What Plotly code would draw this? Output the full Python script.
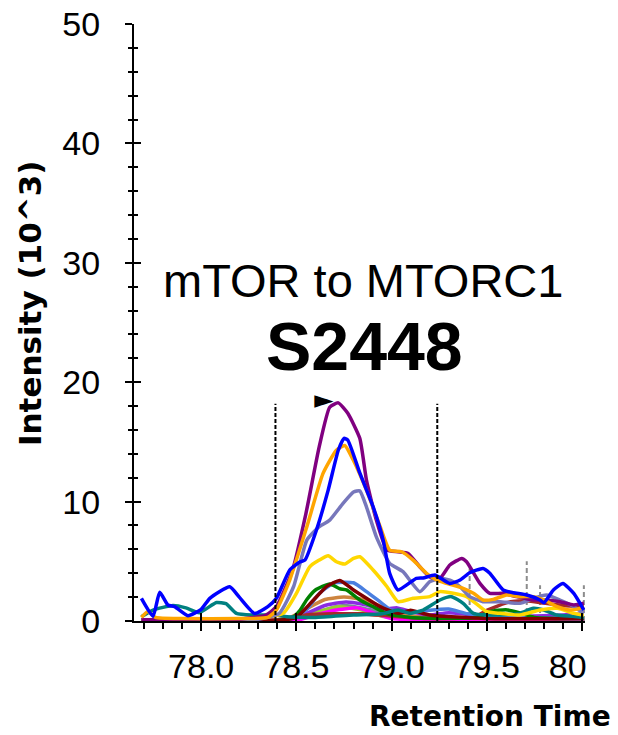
import plotly.graph_objects as go

# ---------------- data ----------------
blue_x = [77.686, 77.747, 77.782, 77.825, 77.86, 77.93, 78.0, 78.045, 78.15, 78.2, 78.28, 78.35, 78.395, 78.465, 78.52, 78.545, 78.605, 78.667, 78.72, 78.75, 78.77, 78.833, 78.903, 78.956, 78.99, 79.034, 79.13, 79.166, 79.227, 79.306, 79.36, 79.41, 79.48, 79.516, 79.586, 79.64, 79.71, 79.78, 79.8, 79.85, 79.90, 79.957, 80.01]
blue_y = [1.9, 0.4, 2.4, 1.34, 1.2, 0.45, 0.98, 1.9, 2.87, 2.0, 0.64, 1.2, 1.9, 4.27, 4.96, 5.1, 7.6, 10.96, 14.3, 15.3, 15.15, 12.4, 9.56, 6.78, 3.99, 2.6, 3.57, 3.6, 3.85, 3.15, 3.43, 4.04, 4.4, 4.0, 2.6, 2.37, 2.18, 1.76, 1.53, 2.6, 3.15, 2.32, 0.92]

purple_x = [77.686, 77.9, 78.2, 78.34, 78.395, 78.48, 78.55, 78.62, 78.675, 78.72, 78.77, 78.833, 78.868, 78.92, 78.976, 79.034, 79.087, 79.148, 79.2, 79.254, 79.306, 79.368, 79.394, 79.464, 79.516, 79.586, 79.656, 79.744, 79.814, 79.884, 79.957, 80.01]
purple_y = [0.1, 0.1, 0.15, 0.5, 1.2, 4.27, 9.0, 14.6, 17.9, 18.27, 17.4, 15.3, 11.8, 8.45, 5.94, 5.8, 5.66, 4.54, 3.7, 3.57, 4.69, 5.24, 4.96, 3.15, 2.32, 2.32, 2.04, 1.76, 1.76, 1.62, 1.34, 1.48]

orange_x = [77.686, 77.72, 77.76, 77.9, 78.2, 78.35, 78.395, 78.465, 78.555, 78.64, 78.71, 78.754, 78.798, 78.868, 78.94, 78.99, 79.052, 79.113, 79.183, 79.236, 79.289, 79.376, 79.43, 79.48, 79.534, 79.604, 79.674, 79.744, 79.8, 79.87, 79.937, 79.99, 80.01]
orange_y = [0.3, 0.8, 0.3, 0.2, 0.2, 0.3, 0.92, 3.43, 7.9, 12.36, 14.3, 14.7, 13.5, 10.96, 7.9, 5.94, 5.8, 5.1, 4.0, 3.43, 3.15, 2.74, 2.32, 1.76, 1.81, 2.18, 2.04, 2.04, 1.76, 1.2, 0.92, 1.06, 1.2]

slate_x = [77.686, 78.0, 78.3, 78.41, 78.485, 78.555, 78.62, 78.675, 78.745, 78.8, 78.833, 78.868, 78.92, 78.99, 79.06, 79.148, 79.2, 79.254, 79.306, 79.36, 79.41, 79.48, 79.57, 79.674, 79.744, 79.814, 79.884, 79.957, 80.01]
slate_y = [0.1, 0.1, 0.15, 0.64, 2.87, 6.78, 7.9, 8.45, 9.85, 10.8, 10.9, 9.56, 7.05, 4.83, 4.13, 2.46, 3.29, 3.57, 3.43, 2.87, 2.04, 1.62, 1.62, 1.48, 1.9, 2.18, 1.76, 1.2, 0.64]

gold_x = [77.686, 78.2, 78.43, 78.5, 78.57, 78.62, 78.667, 78.71, 78.754, 78.8, 78.833, 78.903, 78.976, 79.034, 79.113, 79.2, 79.254, 79.324, 79.394, 79.464, 79.5, 79.57, 79.674, 79.78, 79.87, 79.957, 80.01]
gold_y = [0.1, 0.1, 0.64, 2.32, 4.54, 5.1, 5.47, 4.96, 4.77, 5.24, 5.38, 4.27, 2.87, 1.62, 1.9, 2.04, 2.46, 2.32, 2.04, 1.2, 0.78, 0.64, 0.5, 0.92, 1.06, 0.64, 0.5]

teal_x = [77.686, 77.747, 77.852, 77.92, 77.99, 78.08, 78.13, 78.185, 78.27, 78.395, 78.45, 78.6, 78.8, 78.95, 79.034, 79.096, 79.166, 79.254, 79.315, 79.376, 79.43, 79.55, 79.674, 79.744, 79.8, 79.87, 79.95, 80.01]
teal_y = [0.36, 0.92, 1.3, 1.1, 0.7, 1.55, 1.45, 0.64, 0.5, 0.5, 0.36, 0.3, 0.5, 0.6, 0.92, 0.64, 0.92, 1.76, 2.04, 1.48, 0.64, 0.5, 0.64, 1.06, 0.92, 0.5, 0.4, 0.3]

maroon_x = [77.686, 78.4, 78.5, 78.59, 78.66, 78.728, 78.8, 78.868, 78.94, 79.034, 79.1, 79.2, 79.5, 80.01]
maroon_y = [0.05, 0.05, 0.3, 1.76, 2.9, 3.4, 2.6, 1.9, 1.2, 0.64, 0.9, 0.5, 0.2, 0.2]

green_x = [77.686, 78.4, 78.48, 78.52, 78.555, 78.6, 78.675, 78.728, 78.763, 78.833, 78.903, 78.98, 79.1, 79.45, 79.52, 79.6, 79.67, 79.75, 80.01]
green_y = [0.05, 0.05, 0.3, 0.92, 1.8, 2.6, 3.1, 2.7, 2.6, 1.76, 1.2, 0.6, 0.3, 0.3, 0.8, 0.95, 0.7, 0.3, 0.2]

cblue_x = [77.686, 78.45, 78.55, 78.62, 78.7, 78.8, 78.868, 78.94, 79.0, 79.1, 79.2, 79.3, 79.4, 79.6, 80.01]
cblue_y = [0.05, 0.1, 0.9, 2.3, 3.2, 3.2, 2.46, 1.6, 0.9, 0.7, 0.9, 1.0, 0.6, 0.3, 0.2]

brown_x = [77.686, 78.4, 78.55, 78.7, 78.85, 79.0, 79.2, 79.43, 79.5, 79.62, 79.71, 79.8, 79.9, 80.01]
brown_y = [0.05, 0.1, 0.5, 0.6, 0.6, 0.4, 0.2, 0.3, 0.9, 1.6, 1.7, 1.5, 1.3, 1.2]

violet_x = [77.686, 78.45, 78.55, 78.65, 78.76, 78.85, 78.95, 79.03, 79.1, 79.2, 79.3, 79.5, 79.7, 79.9, 80.01]
violet_y = [0.1, 0.1, 0.6, 1.3, 1.6, 1.4, 1.0, 1.1, 0.8, 0.5, 0.7, 0.4, 0.4, 0.5, 0.6]

magenta_x = [77.686, 78.5, 78.6, 78.7, 78.82, 78.9, 79.0, 80.01]
magenta_y = [0.05, 0.05, 0.5, 0.9, 1.1, 0.7, 0.2, 0.1]

peru_x = [77.686, 78.45, 78.55, 78.65, 78.75, 78.85, 78.95, 79.05, 79.2, 80.01]
peru_y = [0.1, 0.2, 1.0, 1.8, 2.0, 1.8, 1.2, 0.6, 0.3, 0.2]

ygreen_x = [77.686, 78.5, 78.6, 78.72, 78.85, 78.95, 80.01]
ygreen_y = [0.05, 0.1, 0.7, 1.2, 0.9, 0.4, 0.1]

sienna_x = [77.686, 78.45, 78.6, 78.8, 79.0, 79.1, 80.01]
sienna_y = [0.05, 0.1, 0.4, 0.6, 0.4, 0.1, 0.1]

lsgray_x = [77.686, 78.5, 78.62, 78.75, 78.9, 79.0, 80.01]
lsgray_y = [0.05, 0.1, 0.8, 1.3, 0.9, 0.3, 0.1]

# peak boundaries and other-peak markers
boundary_x = [78.39, 79.24]
boundary_top = 18.2
marker_x = [79.41, 79.71, 79.78, 80.01]
marker_top = [4.4, 5.0, 3.0, 3.0]
apex_x = 78.644
apex_y = 18.35

x_tickvals = [78.0, 78.5, 79.0, 79.5, 80.0]
x_ticktext = ["78.0", "78.5", "79.0", "79.5", "80\u00a0\u00a0\u00a0"]
y_tickvals = [0, 10, 20, 30, 40, 50]

series = [
    (sienna_x, sienna_y, "#A0522D"),
    (lsgray_x, lsgray_y, "#778899"),
    (ygreen_x, ygreen_y, "#9ACD32"),
    (magenta_x, magenta_y, "#FF00FF"),
    (peru_x, peru_y, "#CD853F"),
    (violet_x, violet_y, "#8A2BE2"),
    (brown_x, brown_y, "#A52A2A"),
    (cblue_x, cblue_y, "#4A7FE0"),
    (green_x, green_y, "#008000"),
    (maroon_x, maroon_y, "#800000"),
    (teal_x, teal_y, "#008080"),
    (gold_x, gold_y, "#FFD700"),
    (slate_x, slate_y, "#7777BB"),
    (purple_x, purple_y, "#800080"),
    (orange_x, orange_y, "#FFA500"),
    (blue_x, blue_y, "#0000FF"),
]

fig = go.Figure()

# gray dashed markers
for mx, mt in zip(marker_x, marker_top):
    fig.add_trace(go.Scatter(x=[mx, mx], y=[0, mt], mode="lines",
                             line=dict(color="#8C8C8C", width=2, dash="5px,3px"),
                             showlegend=False, hoverinfo="skip"))

for xs, ys, c in series:
    fig.add_trace(go.Scatter(x=xs, y=ys, mode="lines",
                             line=dict(color=c, width=3.5, shape="spline", smoothing=0.5),
                             showlegend=False))

# black dashed peak boundaries
for bx in boundary_x:
    fig.add_trace(go.Scatter(x=[bx, bx], y=[0, boundary_top], mode="lines",
                             line=dict(color="black", width=2, dash="4px,2px"),
                             showlegend=False, hoverinfo="skip"))

# apex pointer
fig.add_trace(go.Scatter(x=[apex_x], y=[apex_y], mode="text", text=["\u25BA"],
                         textposition="middle center",
                         textfont=dict(family="DejaVu Sans", size=25, color="black"),
                         showlegend=False))

# overlay axes for inside ticks
fig.add_trace(go.Scatter(x=[], y=[], xaxis="x2", yaxis="y2", showlegend=False))

tickfont = dict(family="Liberation Sans, Arial, sans-serif", size=34, color="black")

fig.update_layout(
    width=618, height=735,
    margin=dict(l=134, r=33, t=24, b=114, autoexpand=False),
    paper_bgcolor="white", plot_bgcolor="white",
    showlegend=False,
    xaxis=dict(range=[77.647, 80.016], tickvals=x_tickvals, ticktext=x_ticktext,
               ticks="outside", ticklen=8, tickwidth=2, tickcolor="black",
               minor=dict(dtick=0.1, tick0=78.0, ticks="outside", ticklen=6, tickwidth=1.5, tickcolor="black"),
               showline=True, linecolor="black", linewidth=2, showgrid=False, zeroline=False,
               tickfont=tickfont, ticklabelstandoff=6, automargin=False),
    yaxis=dict(range=[0, 50], tickvals=y_tickvals,
               ticks="outside", ticklen=7, tickwidth=2, tickcolor="black",
               minor=dict(dtick=2, ticks="outside", ticklen=4, tickwidth=1.5, tickcolor="black"),
               showline=True, linecolor="black", linewidth=2, showgrid=False, zeroline=False,
               tickfont=tickfont, ticklabelstandoff=18, automargin=False),
    xaxis2=dict(overlaying="x", matches="x", anchor="y2", side="bottom",
                tickvals=x_tickvals, showticklabels=False, ticks="inside", ticklen=8, tickwidth=2,
                tickcolor="black", showline=False, showgrid=False, zeroline=False, automargin=False),
    yaxis2=dict(overlaying="y", matches="y", anchor="x2", side="left",
                tickvals=y_tickvals, showticklabels=False, ticks="inside", ticklen=7, tickwidth=2,
                tickcolor="black",
                minor=dict(dtick=2, ticks="inside", ticklen=4, tickwidth=1.5, tickcolor="black"),
                showline=False, showgrid=False, zeroline=False, automargin=False),
    annotations=[
        dict(text="mTOR to MTORC1", xref="paper", yref="paper",
             x=(363 - 134) / 451, y=(621 - 280) / 597, xanchor="center", yanchor="middle",
             showarrow=False, font=dict(family="Liberation Sans, Arial, sans-serif", size=47, color="black")),
        dict(text="<b>S2448</b>", xref="paper", yref="paper",
             x=(364 - 134) / 451, y=(621 - 346) / 597, xanchor="center", yanchor="middle",
             showarrow=False, font=dict(family="Liberation Sans, Arial, sans-serif", size=68, color="black")),
        dict(text="<b>Intensity (10^3)</b>", xref="paper", yref="paper", textangle=-90,
             x=(30 - 134) / 451, y=(621 - 304) / 597, xanchor="center", yanchor="middle",
             showarrow=False, font=dict(family="DejaVu Sans, sans-serif", size=31, color="black")),
        dict(text="<b>Retention Time</b>", xref="paper", yref="paper",
             x=(613 - 134) / 451, y=(621 - 716) / 597, xanchor="right", yanchor="middle",
             showarrow=False, font=dict(family="DejaVu Sans, sans-serif", size=28, color="black")),
    ],
)

fig.write_html("out.html")
